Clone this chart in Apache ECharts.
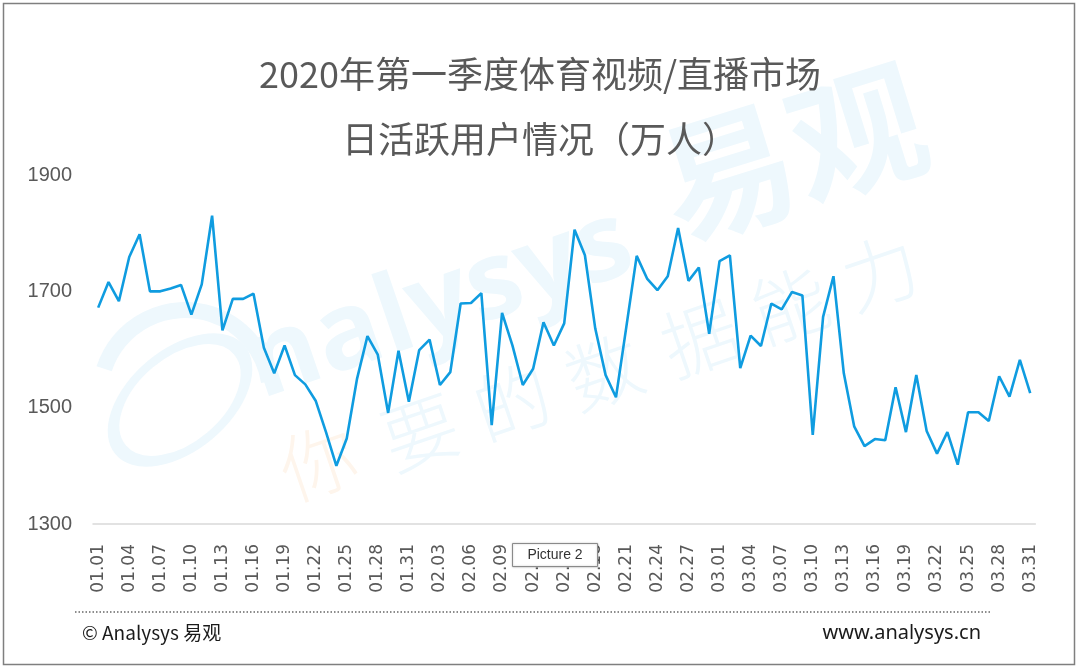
<!DOCTYPE html>
<html>
<head>
<meta charset="utf-8">
<script src="https://cdn.jsdelivr.net/npm/echarts@6/dist/echarts.min.js"></script>
<style>
html,body{margin:0;padding:0;background:#fff;}
#chart{width:1080px;height:671px;}
</style>
</head>
<body>
<div id="chart"></div>
<script>
const dates = [
'01.01','01.02','01.03','01.04','01.05','01.06','01.07','01.08','01.09','01.10',
'01.11','01.12','01.13','01.14','01.15','01.16','01.17','01.18','01.19','01.20',
'01.21','01.22','01.23','01.24','01.25','01.26','01.27','01.28','01.29','01.30','01.31',
'02.01','02.02','02.03','02.04','02.05','02.06','02.07','02.08','02.09','02.10',
'02.11','02.12','02.13','02.14','02.15','02.16','02.17','02.18','02.19','02.20',
'02.21','02.22','02.23','02.24','02.25','02.26','02.27','02.28','02.29',
'03.01','03.02','03.03','03.04','03.05','03.06','03.07','03.08','03.09','03.10',
'03.11','03.12','03.13','03.14','03.15','03.16','03.17','03.18','03.19','03.20',
'03.21','03.22','03.23','03.24','03.25','03.26','03.27','03.28','03.29','03.30','03.31'
];
const dau = [
1672,1716,1683,1759,1798,1700,1700,1705,1711,1660,
1712,1830,1633,1687,1687,1696,1603,1559,1607,1556,
1540,1512,1458,1400,1447,1550,1623,1591,1491,1598,1510,
1599,1617,1539,1561,1679,1680,1697,1470,1663,1607,
1539,1567,1647,1607,1645,1806,1762,1636,1556,1518,
1639,1761,1722,1702,1726,1809,1718,1741,1627,
1752,1762,1568,1624,1606,1679,1669,1699,1693,1453,
1656,1726,1559,1468,1434,1446,1444,1535,1458,1556,
1460,1421,1458,1402,1492,1492,1477,1554,1519,1582,1525
];
const yTicks = [1300, 1500, 1700, 1900];
const titleText = '2020年第一季度体育视频/直播市场\n日活跃用户情况（万人）';

const wmBlue = '#eef8fd';
const wmOrange = '#fef5ec';
const sloganChars = ['你','要','的','数','据','能','力'];
const sloganPos = [[318,462],[420,432],[512,402],[604,372],[700,338],[790,305],[880,272]];

const graphics = [
  {type:'circle', x:180, y:400, rotation:0.7, scaleX:1.25, scaleY:0.75, shape:{cx:0,cy:0,r:62}, style:{fill:'none', stroke:wmBlue, lineWidth:11}, z:-10, silent:true},
  {type:'arc', x:185, y:395, rotation:0, shape:{cx:0,cy:0,r:85,startAngle:Math.PI*1.1,endAngle:Math.PI*1.95}, style:{stroke:wmBlue, lineWidth:16, fill:'none'}, z:-10, silent:true},
  {type:'text', x:440, y:305, rotation:0.33, style:{text:'nalysys', font:'bold 108px "Open Sans", "Noto Sans", sans-serif', fill:wmBlue, align:'center', verticalAlign:'middle'}, z:-10, silent:true},
  {type:'text', x:792, y:152, rotation:0.3, style:{text:'易观', font:'bold 135px "Noto Sans CJK SC", sans-serif', fill:wmBlue, align:'center', verticalAlign:'middle'}, z:-10, silent:true}
];
sloganChars.forEach((c, i) => {
  graphics.push({type:'text', x:sloganPos[i][0], y:sloganPos[i][1], rotation:0.33,
    style:{text:c, font:'300 76px "Noto Sans CJK SC", sans-serif', fill: i === 0 ? wmOrange : wmBlue, align:'center', verticalAlign:'middle'}, z:-10, silent:true});
});
graphics.push(
  {type:'rect', shape:{x:3.5,y:3.5,width:1071,height:661}, style:{fill:'none', stroke:'#7f7f7f', lineWidth:1.5}, z:10, silent:true},
  {type:'line', shape:{x1:75,y1:612,x2:990,y2:612}, style:{stroke:'#8c8c8c', lineWidth:2, lineDash:[1.5,2]}, z:10, silent:true},
  {type:'text', x:82, y:633, style:{text:'© Analysys 易观', font:'19px "Noto Sans CJK SC", sans-serif', fill:'#1a1a1a', align:'left', verticalAlign:'middle'}, z:10, silent:true},
  {type:'text', x:981, y:633, style:{text:'www.analysys.cn', font:'20px "Noto Sans", sans-serif', fill:'#1a1a1a', align:'right', verticalAlign:'middle'}, z:10, silent:true},
  {type:'rect', shape:{x:512.5,y:543.5,width:85,height:23}, style:{fill:'#fff', stroke:'#8a8a8a', lineWidth:1, shadowBlur:2, shadowColor:'rgba(0,0,0,0.25)'}, z:20, silent:true},
  {type:'text', x:555, y:555, style:{text:'Picture 2', font:'14px "Liberation Sans", sans-serif', fill:'#333', align:'center', verticalAlign:'middle'}, z:21, silent:true}
);

const chart = echarts.init(document.getElementById('chart'));
chart.setOption({
  backgroundColor:'#fff',
  animation:false,
  title:{
    text:titleText, left:'center', top:42, padding:0,
    textStyle:{fontSize:36, lineHeight:65, fontWeight:'normal', color:'#595959', fontFamily:'"Noto Sans CJK SC", sans-serif'}
  },
  grid:{left:93, right:44.6, top:175, bottom:147, containLabel:false},
  xAxis:{
    type:'category', data:dates, boundaryGap:true,
    axisLine:{show:true, lineStyle:{color:'#d9d9d9', width:1.5}},
    axisTick:{show:false},
    axisLabel:{interval:2, rotate:90, margin:20, fontSize:17, color:'#595959', fontFamily:'"DejaVu Sans", sans-serif'},
    splitLine:{show:false}
  },
  yAxis:{
    type:'value', min:yTicks[0], max:yTicks[yTicks.length-1], interval:200,
    axisLine:{show:false}, axisTick:{show:false}, splitLine:{show:false},
    axisLabel:{margin:21, fontSize:20, color:'#595959', fontFamily:'"Liberation Sans", sans-serif', formatter:(v) => String(v)}
  },
  series:[{
    type:'line', data:dau, symbol:'none', z:5,
    lineStyle:{color:'#0f9ce0', width:2.6},
    itemStyle:{color:'#0f9ce0'}
  }],
  graphic:graphics
});
</script>
</body>
</html>
